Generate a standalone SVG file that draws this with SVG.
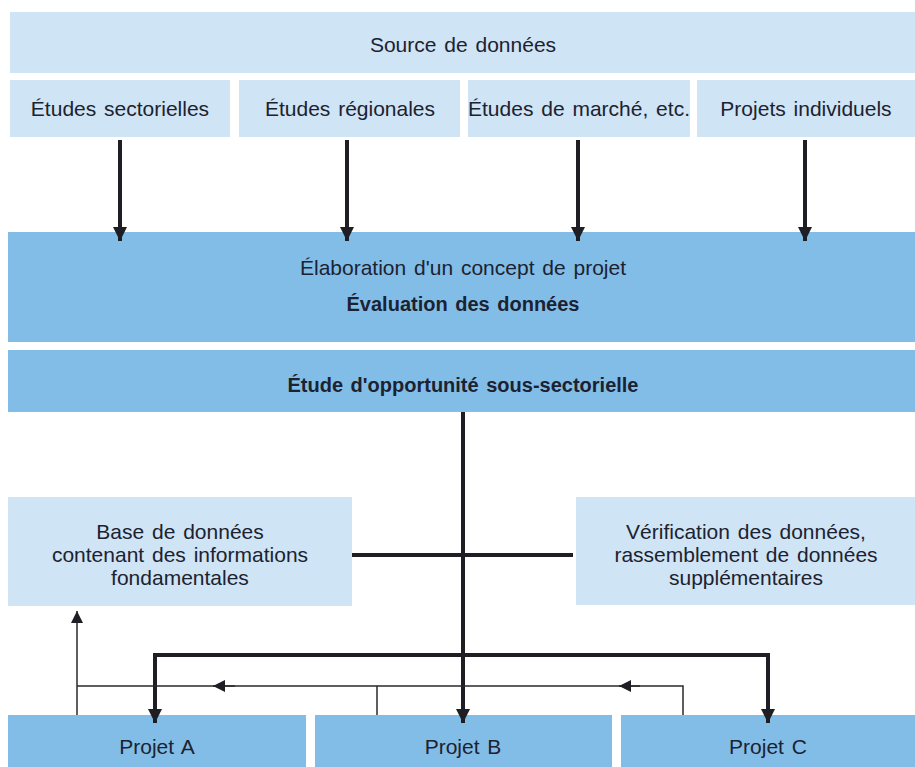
<svg xmlns="http://www.w3.org/2000/svg" width="915" height="767" viewBox="0 0 915 767">
<style>
.light{fill:#cfe4f5}
.dark{fill:#82bde8}
text{font-family:"Liberation Sans",Arial,sans-serif;fill:#1c2230;text-anchor:middle}
.t{font-size:21px;word-spacing:2px}
.b{font-size:20px;font-weight:bold;word-spacing:2px}
.thick{stroke:#1e1e24;stroke-width:4;fill:none}
.thin{stroke:#2a2a2a;stroke-width:1.5;fill:none}
</style>
<defs>
<marker id="ah" viewBox="0 0 10 10" refX="10" refY="5" markerWidth="3.6" markerHeight="3.6" markerUnits="strokeWidth" orient="auto">
<path d="M0,0 L10,5 L0,10 z" fill="#1e1e24"/>
</marker>
<marker id="ahs" viewBox="0 0 10 10" refX="10" refY="5" markerWidth="8" markerHeight="8" markerUnits="strokeWidth" orient="auto">
<path d="M0,0 L10,5 L0,10 z" fill="#1e1e24"/>
</marker>
</defs>
<rect width="915" height="767" fill="#ffffff"/>
<g id="source">
<rect class="light" x="10" y="12" width="905" height="61"/>
<text class="t" x="463" y="52">Source de données</text>
</g>
<g id="etudes-sectorielles">
<rect class="light" x="10" y="80" width="220" height="57"/>
<text class="t" x="120" y="116">Études sectorielles</text>
</g>
<g id="etudes-regionales">
<rect class="light" x="239" y="80" width="221" height="57"/>
<text class="t" x="350" y="116">Études régionales</text>
</g>
<g id="etudes-marche">
<rect class="light" x="468" y="80" width="222" height="57"/>
<text class="t" x="579" y="116">Études de marché, etc.</text>
</g>
<g id="projets-individuels">
<rect class="light" x="697" y="80" width="218" height="57"/>
<text class="t" x="806" y="116">Projets individuels</text>
</g>
<g id="elaboration">
<rect class="dark" x="8" y="232" width="907" height="110"/>
<text class="t" x="463" y="275">Élaboration d'un concept de projet</text>
<text class="b" x="463" y="311">Évaluation des données</text>
</g>
<g id="etude-opportunite">
<rect class="dark" x="8" y="350" width="907" height="62"/>
<text class="b" x="463" y="392">Étude d'opportunité sous-sectorielle</text>
</g>
<g id="base-donnees">
<rect class="light" x="8" y="497" width="344" height="109"/>
<text class="t" x="180" y="539">Base de données</text>
<text class="t" x="180" y="562">contenant des informations</text>
<text class="t" x="180" y="585">fondamentales</text>
</g>
<g id="verification">
<rect class="light" x="576" y="497" width="339" height="108"/>
<text class="t" x="746" y="539">Vérification des données,</text>
<text class="t" x="746" y="562">rassemblement de données</text>
<text class="t" x="746" y="585">supplémentaires</text>
</g>
<g id="projet-a">
<rect class="dark" x="8" y="715" width="298" height="52"/>
<text class="t" x="157" y="754">Projet A</text>
</g>
<g id="projet-b">
<rect class="dark" x="315" y="715" width="297" height="52"/>
<text class="t" x="463" y="754">Projet B</text>
</g>
<g id="projet-c">
<rect class="dark" x="621" y="715" width="294" height="52"/>
<text class="t" x="768" y="754">Projet C</text>
</g>
<g id="connectors">
<line class="thick" x1="120" y1="140" x2="120" y2="241" marker-end="url(#ah)"/>
<line class="thick" x1="347" y1="140" x2="347" y2="241" marker-end="url(#ah)"/>
<line class="thick" x1="578" y1="140" x2="578" y2="241" marker-end="url(#ah)"/>
<line class="thick" x1="805" y1="140" x2="805" y2="241" marker-end="url(#ah)"/>
<line class="thick" x1="463" y1="412" x2="463" y2="723" marker-end="url(#ah)"/>
<line class="thick" x1="352" y1="555" x2="573" y2="555"/>
<path class="thick" d="M155,723 V655 H768 V723" />
<line class="thick" x1="155" y1="660" x2="155" y2="723" marker-end="url(#ah)"/>
<line class="thick" x1="768" y1="660" x2="768" y2="723" marker-end="url(#ah)"/>
<line class="thin" x1="77" y1="715" x2="77" y2="611" marker-end="url(#ahs)"/>
<path class="thin" d="M683,715 V686 H77"/>
<line class="thin" x1="640" y1="686" x2="619" y2="686" marker-end="url(#ahs)"/>
<line class="thin" x1="235" y1="686" x2="213" y2="686" marker-end="url(#ahs)"/>
<line class="thin" x1="377" y1="686" x2="377" y2="715"/>
</g>
</svg>
